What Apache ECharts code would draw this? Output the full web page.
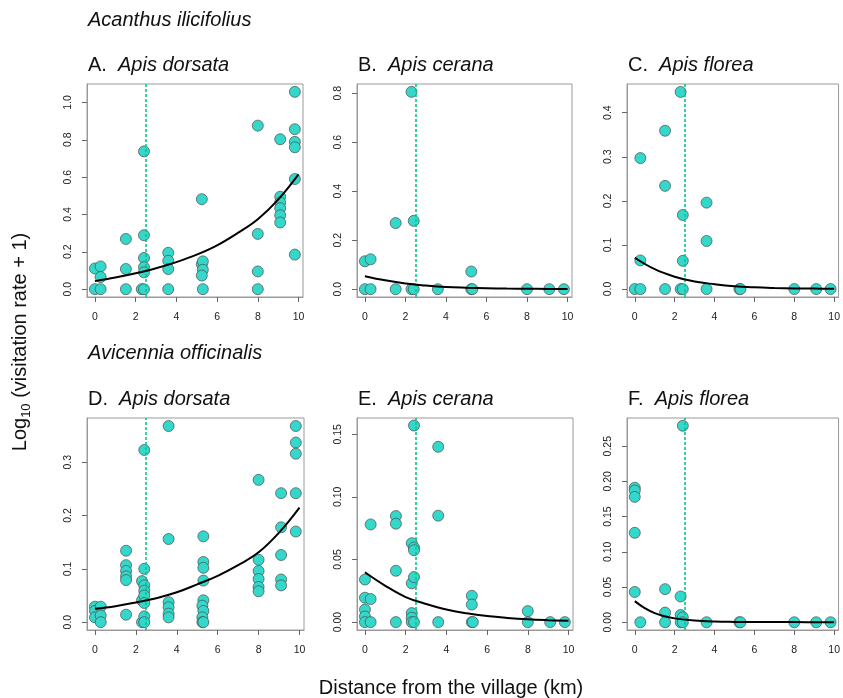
<!DOCTYPE html>
<html>
<head>
<meta charset="utf-8">
<script src="https://cdn.jsdelivr.net/npm/echarts@6/dist/echarts.min.js"></script>
<style>
html,body{margin:0;padding:0;background:#fff;}
#chart{width:843px;height:698px;}
</style>
</head>
<body>
<div id="chart"></div>
<script>
// ---------- Data ----------
const speciesTop = 'Acanthus ilicifolius';
const speciesBottom = 'Avicennia officinalis';
const panelLetters = ['A.', 'B.', 'C.', 'D.', 'E.', 'F.'];
const panelBees = ['Apis dorsata', 'Apis cerana', 'Apis florea', 'Apis dorsata', 'Apis cerana', 'Apis florea'];
const xTicks = [0, 2, 4, 6, 8, 10];
const villageLimit = 2.5;

const ptsA = [[0,0.111],[0,0],[0.28,0.122],[0.28,0.065],[0.28,0],[1.52,0.269],[1.52,0.108],[1.52,0],
  [2.41,0.738],[2.41,0.289],[2.41,0.167],[2.41,0.118],[2.41,0.09],[2.3,0],[2.41,0],
  [3.6,0.195],[3.6,0.152],[3.6,0.108],[3.6,0],[5.25,0.482],[5.25,0.133],[5.3,0.149],[5.3,0.104],[5.25,0.073],[5.3,0],
  [8,0.876],[8,0.296],[8,0.095],[8,0],[9.1,0.803],[9.1,0.495],[9.1,0.464],[9.1,0.434],[9.1,0.396],[9.1,0.357],
  [9.82,1.057],[9.82,0.857],[9.82,0.789],[9.82,0.760],[9.82,0.590],[9.82,0.185]];
const ptsB = [[0,0.114],[0,0],[0.28,0.122],[0.28,0],[1.52,0.27],[1.52,0],[2.3,0.806],[2.41,0.279],[2.3,0],[2.41,0],
  [3.6,0],[5.25,0.072],[5.25,0],[5.3,0],[8,0],[9.1,0],[9.82,0]];
const ptsC = [[0,0],[0.28,0.297],[0.28,0.065],[0.28,0],[1.52,0.359],[1.52,0.234],[1.52,0],[2.3,0.447],[2.41,0.168],
  [2.41,0.064],[2.3,0],[2.41,0],[3.6,0.196],[3.6,0.109],[3.6,0],[5.25,0],[5.3,0],[8,0],[9.1,0],[9.82,0]];
const ptsD = [[0,0.029],[0,0.021],[0,0.009],[0.28,0.029],[0.28,0.0125],[0.28,0],
  [1.52,0.134],[1.52,0.107],[1.52,0.096],[1.52,0.086],[1.52,0.079],[1.52,0.014],
  [2.3,0.077],[2.3,0.041],[2.3,0],[2.41,0.323],[2.41,0.100],[2.41,0.069],[2.41,0.059],[2.41,0.05],[2.41,0.036],[2.41,0.011],[2.41,0],
  [3.6,0.368],[3.6,0.156],[3.6,0.0375],[3.6,0.028],[3.6,0.016],[3.6,0.009],
  [5.3,0.161],[5.3,0.113],[5.3,0.102],[5.3,0.078],[5.3,0.041],[5.25,0.031],[5.3,0.021],[5.25,0.009],[5.25,0],[5.3,0],
  [8,0.267],[8,0.117],[8,0.096],[8,0.081],[8,0.066],[8,0.058],
  [9.1,0.242],[9.1,0.178],[9.1,0.126],[9.1,0.080],[9.1,0.069],
  [9.82,0.368],[9.82,0.337],[9.82,0.316],[9.82,0.242],[9.82,0.170]];
const ptsE = [[0,0.034],[0,0.0195],[0,0.010],[0,0.0045],[0,0],[0.28,0.078],[0.28,0.0184],[0.28,0],
  [1.52,0.0847],[1.52,0.0786],[1.52,0.041],[1.52,0],
  [2.3,0.063],[2.3,0.031],[2.3,0.0072],[2.3,0.0035],[2.3,0],[2.41,0.157],[2.41,0.0596],[2.41,0.0574],[2.41,0.036],[2.41,0],
  [3.6,0.14],[3.6,0.085],[3.6,0],[5.25,0.021],[5.25,0.014],[5.25,0],[5.3,0],[8,0.0088],[8,0],[9.1,0],[9.82,0]];
const ptsF = [[0,0.191],[0,0.187],[0,0.178],[0,0.127],[0,0.043],[0.28,0],[1.52,0.047],[1.52,0.0137],[1.52,0],
  [2.3,0.0366],[2.3,0.0104],[2.3,0],[2.41,0.279],[2.41,0.007],[2.41,0],
  [3.6,0],[5.25,0],[5.3,0],[8,0],[9.1,0],[9.82,0]];

// fitted curves
const curveA = [[0,0.043],[1,0.062],[2,0.085],[3,0.112],[4,0.145],[5,0.185],[6,0.235],[7,0.30],[8,0.375],[9,0.48],[10,0.615]];
const curveB = [[0,0.053],[1,0.036],[2,0.023],[3,0.015],[4,0.009],[5,0.006],[6,0.004],[7,0.0025],[8,0.0015],[9,0.001],[10,0.0005]];
const curveC = [[0,0.071],[1,0.045],[2,0.028],[3,0.017],[4,0.011],[5,0.0065],[6,0.004],[7,0.0025],[8,0.0015],[9,0.001],[10,0.0006]];
const curveD = [[0,0.025],[1,0.030],[2,0.037],[3,0.045],[4,0.056],[5,0.071],[6,0.087],[7,0.107],[8,0.131],[9,0.168],[10,0.215]];
const curveE = [[0,0.0398],[1,0.029],[2,0.020],[3,0.0145],[4,0.010],[5,0.007],[6,0.0048],[7,0.0033],[8,0.0022],[9,0.0015],[10,0.001]];
const curveF = [[0,0.030],[0.5,0.020],[1,0.013],[1.5,0.0085],[2,0.0055],[3,0.0024],[4,0.001],[5,0.0005],[6,0.0003],[8,0.0002],[10,0.0001]];

const yTicksA = [0, 0.2, 0.4, 0.6, 0.8, 1.0];
const yTicksB = [0, 0.2, 0.4, 0.6, 0.8];
const yTicksC = [0, 0.1, 0.2, 0.3, 0.4];
const yTicksD = [0, 0.1, 0.2, 0.3];
const yTicksE = [0, 0.05, 0.10, 0.15];
const yTicksF = [0, 0.05, 0.10, 0.15, 0.20, 0.25];

// ---------- Layout / style ----------
const FONT = '"Liberation Sans", Arial, Helvetica, sans-serif';
const points = [ptsA, ptsB, ptsC, ptsD, ptsE, ptsF];
const curves = [curveA, curveB, curveC, curveD, curveE, curveF];
const yTicks = [yTicksA, yTicksB, yTicksC, yTicksD, yTicksE, yTicksF];
const yDecimals = [1, 1, 1, 1, 2, 2];
const yRanges = [[-0.042, 1.099], [-0.032, 0.838], [-0.018, 0.465], [-0.0147, 0.383], [-0.0063, 0.163], [-0.011, 0.29]];
const xRange = [-0.39, 10.22];
const grids = [
  {left: 87, top: 84, width: 216, height: 213},
  {left: 357, top: 84, width: 215, height: 213},
  {left: 627, top: 84, width: 215, height: 213},
  {left: 87, top: 418, width: 217, height: 212},
  {left: 357, top: 418, width: 216, height: 212},
  {left: 627, top: 418, width: 215, height: 212}
];
const BORDER = '#9a9a9a';
const TICK = '#666666';

const option = {
  animation: false,
  backgroundColor: '#ffffff',
  grid: grids.map(g => Object.assign({show: true, borderColor: BORDER, borderWidth: 1, backgroundColor: 'transparent'}, g)),
  xAxis: grids.map((g, i) => ({
    type: 'value', gridIndex: i, min: xRange[0], max: xRange[1],
    splitLine: {show: false},
    axisLine: {show: true, onZero: false, lineStyle: {color: BORDER, width: 1}},
    axisTick: {show: true, inside: false, length: 5, lineStyle: {color: TICK, width: 1}, customValues: xTicks},
    axisLabel: {customValues: xTicks, margin: 15, fontSize: 10.5, color: '#222', fontFamily: FONT, showMinLabel: true, showMaxLabel: true}
  })),
  yAxis: grids.map((g, i) => ({
    type: 'value', gridIndex: i, min: yRanges[i][0], max: yRanges[i][1],
    splitLine: {show: false},
    axisLine: {show: true, onZero: false, lineStyle: {color: BORDER, width: 1}},
    axisTick: {show: true, inside: false, length: 5, lineStyle: {color: TICK, width: 1}, customValues: yTicks[i]},
    axisLabel: {customValues: yTicks[i], rotate: 90, margin: 13, fontSize: 10.5, color: '#222', fontFamily: FONT,
      formatter: v => Number(v).toFixed(yDecimals[i])}
  })),
  series: [],
  graphic: []
};

points.forEach((pts, i) => {
  option.series.push({
    type: 'scatter', xAxisIndex: i, yAxisIndex: i, data: pts, symbol: 'circle', symbolSize: 11, z: 2,
    itemStyle: {color: '#33d8cb', borderColor: '#4a4a4a', borderWidth: 0.7, opacity: 1},
    emphasis: {disabled: true}
  });
  option.series.push({
    type: 'line', xAxisIndex: i, yAxisIndex: i, data: curves[i], smooth: 0.4, showSymbol: false, z: 4,
    lineStyle: {color: '#000', width: 2},
    markLine: {
      silent: true, symbol: ['none', 'none'], label: {show: false}, z: 3,
      lineStyle: {color: '#00c98c', type: [3, 2], width: 1.6},
      data: [{xAxis: villageLimit}]
    }
  });
});

option.graphic.push({type: 'text', left: 88, top: 10, style: {text: speciesTop, fill: '#111', font: 'italic 20px ' + FONT}});
option.graphic.push({type: 'text', left: 88, top: 343, style: {text: speciesBottom, fill: '#111', font: 'italic 20px ' + FONT}});
grids.forEach((g, i) => {
  option.graphic.push({
    type: 'text', left: g.left + 1, top: g.top - 29,
    style: {
      text: '{n|' + panelLetters[i] + '}  {b|' + panelBees[i] + '}',
      fill: '#111', font: 'normal 20px ' + FONT,
      rich: {
        n: {fontFamily: FONT, fontSize: 20, fill: '#111'},
        b: {fontFamily: FONT, fontSize: 20, fontStyle: 'italic', fill: '#111'}
      }
    }
  });
});
option.graphic.push({
  type: 'text', x: 20, y: 342, rotation: Math.PI / 2,
  style: {
    text: '{a|Log}{s|10}{a| (visitation rate + 1)}',
    align: 'center', verticalAlign: 'middle', fill: '#111',
    rich: {
      a: {fontFamily: FONT, fontSize: 20, fill: '#111', lineHeight: 26, verticalAlign: 'middle'},
      s: {fontFamily: FONT, fontSize: 13, fill: '#111', lineHeight: 26, verticalAlign: 'bottom'}
    }
  }
});
option.graphic.push({
  type: 'text', x: 451, y: 688,
  style: {text: 'Distance from the village (km)', align: 'center', verticalAlign: 'middle', fill: '#111', font: 'normal 20px ' + FONT}
});

const chart = echarts.init(document.getElementById('chart'), null, {renderer: 'canvas'});
chart.setOption(option);
</script>
</body>
</html>
